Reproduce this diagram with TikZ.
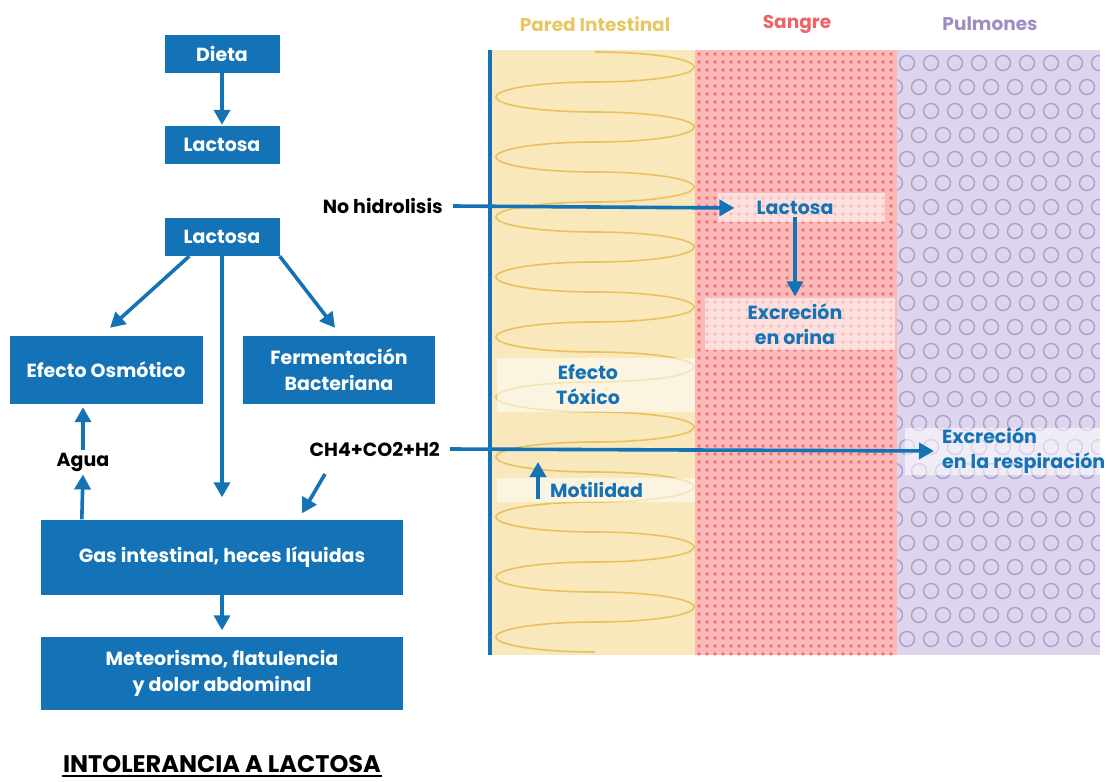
\documentclass[tikz,border=0pt]{standalone}
\usepackage{fontspec}
\setmainfont{Poppins}
\usetikzlibrary{arrows.meta,calc}
\definecolor{bl}{RGB}{20,115,182}
\definecolor{paredbg}{RGB}{248,232,188}
\definecolor{coilc}{RGB}{232,194,92}
\definecolor{sangrebg}{RGB}{251,186,184}
\definecolor{dotc}{RGB}{240,112,114}
\definecolor{pulmbg}{RGB}{221,213,236}
\definecolor{circc}{RGB}{172,158,208}
\definecolor{hpared}{RGB}{232,198,100}
\definecolor{hsangre}{RGB}{238,100,100}
\definecolor{hpulm}{RGB}{160,140,195}
\begin{document}
\begin{tikzpicture}[x=1pt,y=-1pt,
  box/.style={fill=bl, text=white, font=\fontsize{19}{26}\selectfont\bfseries, align=center, inner sep=0pt},
  arr/.style={draw=bl, line width=3.6pt, -{Triangle[length=15pt,width=16pt]}},
  lbl/.style={text=bl, font=\fontsize{19}{25}\selectfont\bfseries, align=center, inner sep=2pt},
  blk/.style={text=black, font=\fontsize{19}{22}\selectfont\bfseries, inner sep=2pt},
  hdr/.style={font=\fontsize{18.5}{22}\selectfont\bfseries},
  band/.style={fill=white, fill opacity=0.55, draw=none}]
\useasboundingbox (0,0) rectangle (1118,781);
% backgrounds
\fill[paredbg] (490,50) rectangle (695,655);
\fill[sangrebg] (695,50) rectangle (897,655);
\fill[pulmbg] (897,50) rectangle (1100,655);
% coil (serpentine of half ellipses)
\begin{scope}
\clip (492,50) rectangle (695,655);
\draw[coilc, line width=1.6pt] (595,52)
  \foreach \k in {0,...,9} {
    arc[start angle=90, end angle=-90, x radius=99pt, y radius=15pt]
    arc[start angle=90, end angle=270, x radius=99pt, y radius=15pt]
  };
\end{scope}
% dots
\foreach \i in {0,...,24}
  \foreach \j in {0,...,75}
    \fill[dotc] (699+8*\i,54+8*\j) circle (1.9pt);
% circles
\begin{scope}
\clip (897,50) rectangle (1100,655);
\foreach \r in {0,...,24}{
  \pgfmathsetmacro\yy{63+24*\r}
  \pgfmathsetmacro\xo{mod(\r,2)==0 ? 907 : 895}
  \foreach \c in {0,...,9}
    \draw[circc, line width=1.4pt] (\xo+24*\c,\yy) circle (7.5pt);
}
\end{scope}
% headers
\node[hdr, text=hpared] (hp) at (595,24) {Pared Intestinal};
\node[hdr, text=hsangre] (hs) at (797,24) {Sangre};
\node[hdr, text=hpulm] (hl) at (990,24) {Pulmones};
% bands
\fill[band] (497,358) rectangle (695,412);
\fill[band] (497,478) rectangle (695,502);
\fill[band] (718,193) rectangle (885,222);
\fill[band] (705,298) rectangle (895,350);
\fill[band] (905,428) rectangle (1118,475);
% wall line
\draw[bl, line width=4pt] (490,50) -- (490,655);
% left boxes
\node[box, minimum width=115pt, minimum height=38pt] (dieta) at (222,54) {Dieta};
\node[box, minimum width=115pt, minimum height=38pt] (lac1) at (222,145) {Lactosa};
\node[box, minimum width=115pt, minimum height=38pt] (lac2) at (222,237) {Lactosa};
\node[box, minimum width=193pt, minimum height=68pt] (osmo) at (106,370) {Efecto Osmótico};
\node[box, minimum width=192pt, minimum height=68pt] (ferm) at (339,370) {Fermentación\\Bacteriana};
\node[box, minimum width=362pt, minimum height=75pt] (gas) at (222,557) {Gas intestinal, heces líquidas};
\node[box, minimum width=362pt, minimum height=73pt] (met) at (222,673) {Meteorismo, flatulencia\\y dolor abdominal};
\node[blk] (agua) at (83,462) {Agua};
\node[blk, anchor=east] (ch4) at (442,449) {CH4+CO2+H2};
\node[blk, anchor=east] (nohid) at (445,206) {No hidrolisis};
\node[font=\fontsize{24}{28}\selectfont\bfseries, inner sep=1pt] (title) at (222,764) {INTOLERANCIA A LACTOSA};
\draw[line width=2pt] ([yshift=-2pt]title.south west) -- ([yshift=-2pt]title.south east);
% right labels
\node[lbl] (lacs) at (795,208) {Lactosa};
\node[lbl] (orina) at (795,324) {Excreción\\en orina};
\node[lbl] (toxico) at (588,385) {Efecto\\Tóxico};
\node[lbl, anchor=west] (motil) at (548,490) {Motilidad};
\node[lbl, anchor=west, align=left] (resp) at (940,451) {Excreción\\en la respiración};
% coordinates
\coordinate (c1) at (325,474);
\coordinate (m1) at (538,499);
\coordinate (m2) at (538,462);
% arrows
\draw[arr] (dieta.south) -- ([yshift=1pt]lac1.north);
\draw[arr] ([xshift=25pt]lac2.south west) -- ([xshift=4pt,yshift=8pt]osmo.north);
\draw[arr] (lac2.south east) -- ([xshift=-4pt,yshift=8pt]ferm.north);
\draw[arr] (lac2.south) -- ([yshift=22pt]gas.north);
\draw[arr] ([xshift=41pt]gas.north west) -- ([yshift=-1pt]agua.south);
\draw[arr] ([yshift=1pt]agua.north) -- ([xshift=-23pt,yshift=-3pt]osmo.south);
\draw[arr] (c1) -- ([xshift=80pt,yshift=6pt]gas.north);
\draw[arr] (gas.south) -- ([yshift=6pt]met.north);
\draw[arr] ([xshift=8pt]nohid.east) -- ([xshift=-20pt]lacs.west);
\draw[arr] (lacs.south) -- ([yshift=5pt]orina.north);
\draw[arr] ([xshift=8pt]ch4.east) -- ([xshift=-6pt]resp.west);
\draw[arr] (m1) -- (m2);
\end{tikzpicture}
\end{document}
